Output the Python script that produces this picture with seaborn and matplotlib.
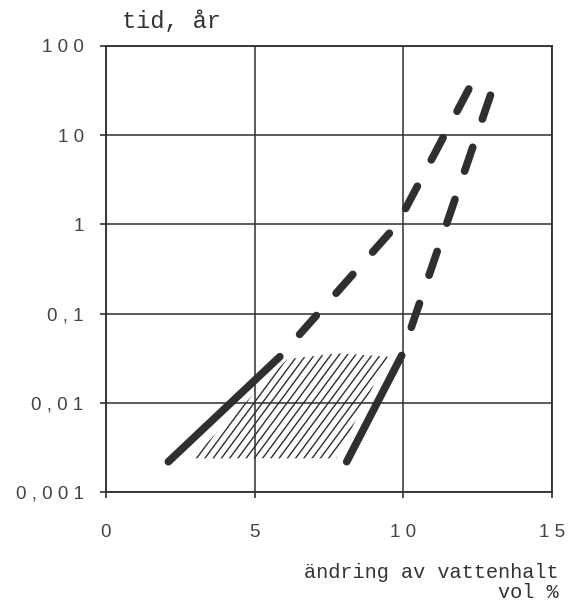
import numpy as np
import pandas as pd
import matplotlib
matplotlib.use("Agg")
import matplotlib.pyplot as plt
from matplotlib.collections import LineCollection
import seaborn as sns

# Data
left_solid_x = [2.1, 5.85]
left_solid_y = [0.0022, 0.033]
left_dash_x = [5.85, 9.8, 12.5]
left_dash_y = [0.033, 1.0, 50.0]
right_solid_x = [8.1, 9.95]
right_solid_y = [0.0022, 0.034]
right_dash_x = [9.95, 13.15]
right_dash_y = [0.034, 45.0]
hatch_x = [2.9, 6.1, 7.8, 9.5, 7.75]
hatch_y = [0.0024, 0.031, 0.036, 0.033, 0.0024]

xticks = [0, 5, 10, 15]
xtick_labels = ["0", "5", "1 0", "1 5"]
yticks = [0.001, 0.01, 0.1, 1, 10, 100]
ytick_labels = ["0 , 0 0 1", "0 , 0 1", "0 , 1", "1", "1 0", "1 0 0"]

sns.set_theme(style="ticks")
plt.rcParams['font.family'] = ['Liberation Sans', 'DejaVu Sans']

fig = plt.figure(figsize=(5.79, 6.10), dpi=100)
ax = fig.add_axes([0.183, 0.193, 0.77, 0.732])

ink = "#2f2f2f"
lw = 5.5

# hatched region (steep diagonal hatching clipped to the region)
poly = ax.fill(hatch_x, hatch_y, facecolor="none", edgecolor="none",
               linewidth=0, zorder=2)[0]
offs = np.arange(-1.0, 1.0, 0.0185)
slope = 1.35
segs = [[(c, 0.0), (c + 1.0 / slope, 1.0)] for c in offs]
lc = LineCollection(segs, colors=ink, linewidths=1.0, transform=ax.transAxes,
                    zorder=2)
ax.add_collection(lc)
lc.set_clip_path(poly)

df_ls = pd.DataFrame({"x": left_solid_x, "y": left_solid_y})
df_rs = pd.DataFrame({"x": right_solid_x, "y": right_solid_y})
df_ld = pd.DataFrame({"x": left_dash_x, "y": left_dash_y})
df_rd = pd.DataFrame({"x": right_dash_x, "y": right_dash_y})

for d in (df_ls, df_rs, df_ld, df_rd):
    sns.lineplot(data=d, x="x", y="y", ax=ax, color=ink, linewidth=lw,
                 sort=False, estimator=None)

for i, line in enumerate(ax.get_lines()):
    line.set_solid_capstyle("round")
    line.set_dash_capstyle("round")
    line.set_zorder(4)
    if i >= 2:
        line.set_linestyle((3.3, (3.3, 3.9)))

ax.set_yscale("log")
ax.set_xlim(0, 15)
ax.set_ylim(0.001, 100)
ax.set_xticks(xticks)
ax.set_xticklabels(xtick_labels)
ax.set_yticks(yticks)
ax.set_yticklabels(ytick_labels)
ax.yaxis.set_minor_locator(matplotlib.ticker.NullLocator())

ax.grid(True, color=ink, linewidth=1.1)
ax.set_axisbelow(True)
for s in ax.spines.values():
    s.set_color(ink)
    s.set_linewidth(1.3)

ax.tick_params(axis="y", length=4, width=1.2, color=ink, pad=12,
               labelsize=13.5, labelcolor="#444444")
ax.tick_params(axis="x", length=4, width=1.2, color=ink, pad=19,
               labelsize=13.5, labelcolor="#444444")
ax.set_xlabel("")
ax.set_ylabel("")

mono = ['Liberation Mono', 'DejaVu Sans Mono']
fig.text(0.211, 0.964, "tid, år", family=mono, fontsize=17, color="#333333",
         ha="left", va="center")
fig.text(0.964, 0.062, "ändring av vattenhalt", family=mono, fontsize=14.6,
         color="#333333", ha="right", va="center")
fig.text(0.964, 0.028, "vol %", family=mono, fontsize=14.6,
         color="#333333", ha="right", va="center")

fig.savefig("out.png", dpi=100)
